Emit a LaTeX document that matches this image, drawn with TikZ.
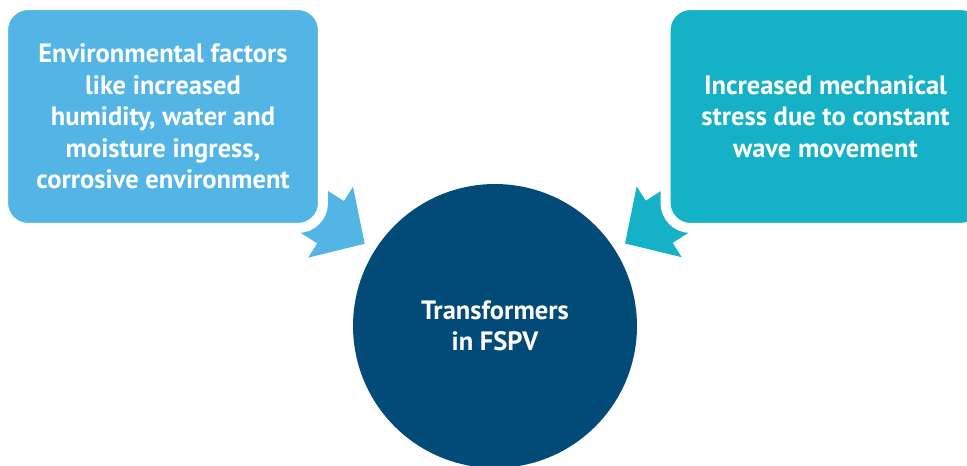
\documentclass[tikz,border=0pt]{standalone}
\usepackage{fontspec}
\setmainfont{PT Sans}
\usepackage{tikz}
\usetikzlibrary{arrows.meta,backgrounds}
\definecolor{skyblue}{RGB}{82,181,230}
\definecolor{lagoon}{RGB}{20,177,199}
\definecolor{deepnavy}{RGB}{2,74,120}

\tikzset{
  labeltext/.style={text=white, align=center,
    font=\bfseries\fontsize{15.1}{17.9}\selectfont},
  factorbox/.style={labeltext, rectangle, rounded corners=0.5cm,
    draw=white, line width=0.2cm, inner sep=0pt,
    minimum width=6.4cm, minimum height=4.46cm},
  blockarrow/.style={line width=1cm,
    -{Triangle[length=0.81cm,width=1.63cm]},
    shorten <=-1.5cm, shorten >=0.24cm}
}

\begin{document}
\begin{tikzpicture}[x=0.02cm,y=-0.02cm]
    \useasboundingbox (0,0) rectangle (967,466);
    \clip (0,0) rectangle (967,466);

    % Centre circle
    \node[labeltext, circle, fill=deepnavy, minimum size=5.68cm,
          inner sep=0pt, outer sep=0pt] (fspv) at (495,326)
        {Transformers\\in FSPV};

    % Factor boxes
    \node[factorbox, fill=skyblue] (envbox) at (163,116.5)
        {Environmental factors\\like increased\\humidity, water and\\moisture ingress,\\corrosive environment};
    \node[factorbox, fill=lagoon] (mechbox) at (825.5,116.5)
        {Increased mechanical\\stress due to constant\\wave movement};

    % Arrows behind the boxes
    \begin{scope}[on background layer]
        \draw[blockarrow, skyblue] (envbox) -- (fspv);
        \draw[blockarrow, lagoon] (mechbox) -- (fspv);
    \end{scope}
\end{tikzpicture}
\end{document}
